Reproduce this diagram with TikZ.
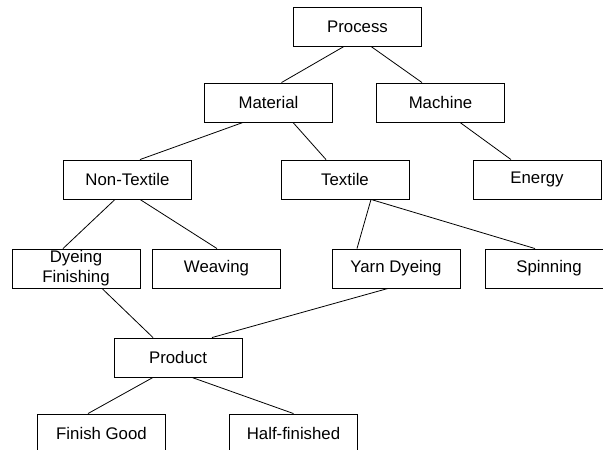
\documentclass[tikz,border=0pt]{standalone}
\usepackage{fontspec}
\setmainfont{Liberation Sans}
\usepackage{tikz}
\usetikzlibrary{positioning, calc}

\begin{document}
\begin{tikzpicture}[
    x=1pt, y=-1pt,
    box/.style={rectangle, draw=black, fill=white, line width=0.9pt,
                minimum width=128pt, minimum height=39pt, inner sep=0pt,
                align=center, font=\fontsize{16.8}{20}\selectfont},
    link/.style={-, line width=0.8pt, black},
  ]
    \clip (0,0) rectangle (603,450);
    \fill[white] (0,0) rectangle (603,450);

    % Level 1 and 2
    \node[box] (proc) at (357.5,26.5) {Process};
    \node[box] (mat) at (268.5,102.5) {Material};
    \node[box] (mach) at (440.5,102.5) {Machine};

    % Level 3
    \node[box] (ntex) at (127.5,179.5) {Non-Textile};
    \node[box] (tex) at (345,179.5) {Textile};
    \node[box] (energy) at (537,179.5) {Energy};

    % Level 4
    \node[box] (dyefin) at (76,268.5) {Dyeing\\Finishing};
    \node[box] (weav) at (216.5,268.5) {Weaving};
    \node[box] (yarn) at (396,268.5) {Yarn Dyeing};
    \node[box] (spin) at (549,268.5) {Spinning};

    % Product and its outputs
    \node[box] (prod) at (178,357.5) {Product};
    \node[box] (fgood) at (101.5,433.5) {Finish Good};
    \node[box] (halff) at (293.5,433.5) {Half-finished};

    % Connectors (offsets along bottom / top edges)
    \foreach \a/\da/\b/\db in {proc/-13.5/mat/13, proc/13.5/mach/-18.5,
        mat/-25.5/ntex/12.5, mat/24.5/tex/-19, mach/19.5/energy/-26,
        ntex/-12.5/dyefin/-13, ntex/12.5/weav/0.5,
        tex/26/yarn/-39, tex/26/spin/-14,
        dyefin/26/prod/-25, yarn/-8/prod/34,
        prod/-25/fgood/-13.5, prod/14/halff/0} {
      \draw[link] ([xshift=\da pt]\a.south) -- ([xshift=\db pt]\b.north);
    }
\end{tikzpicture}
\end{document}
